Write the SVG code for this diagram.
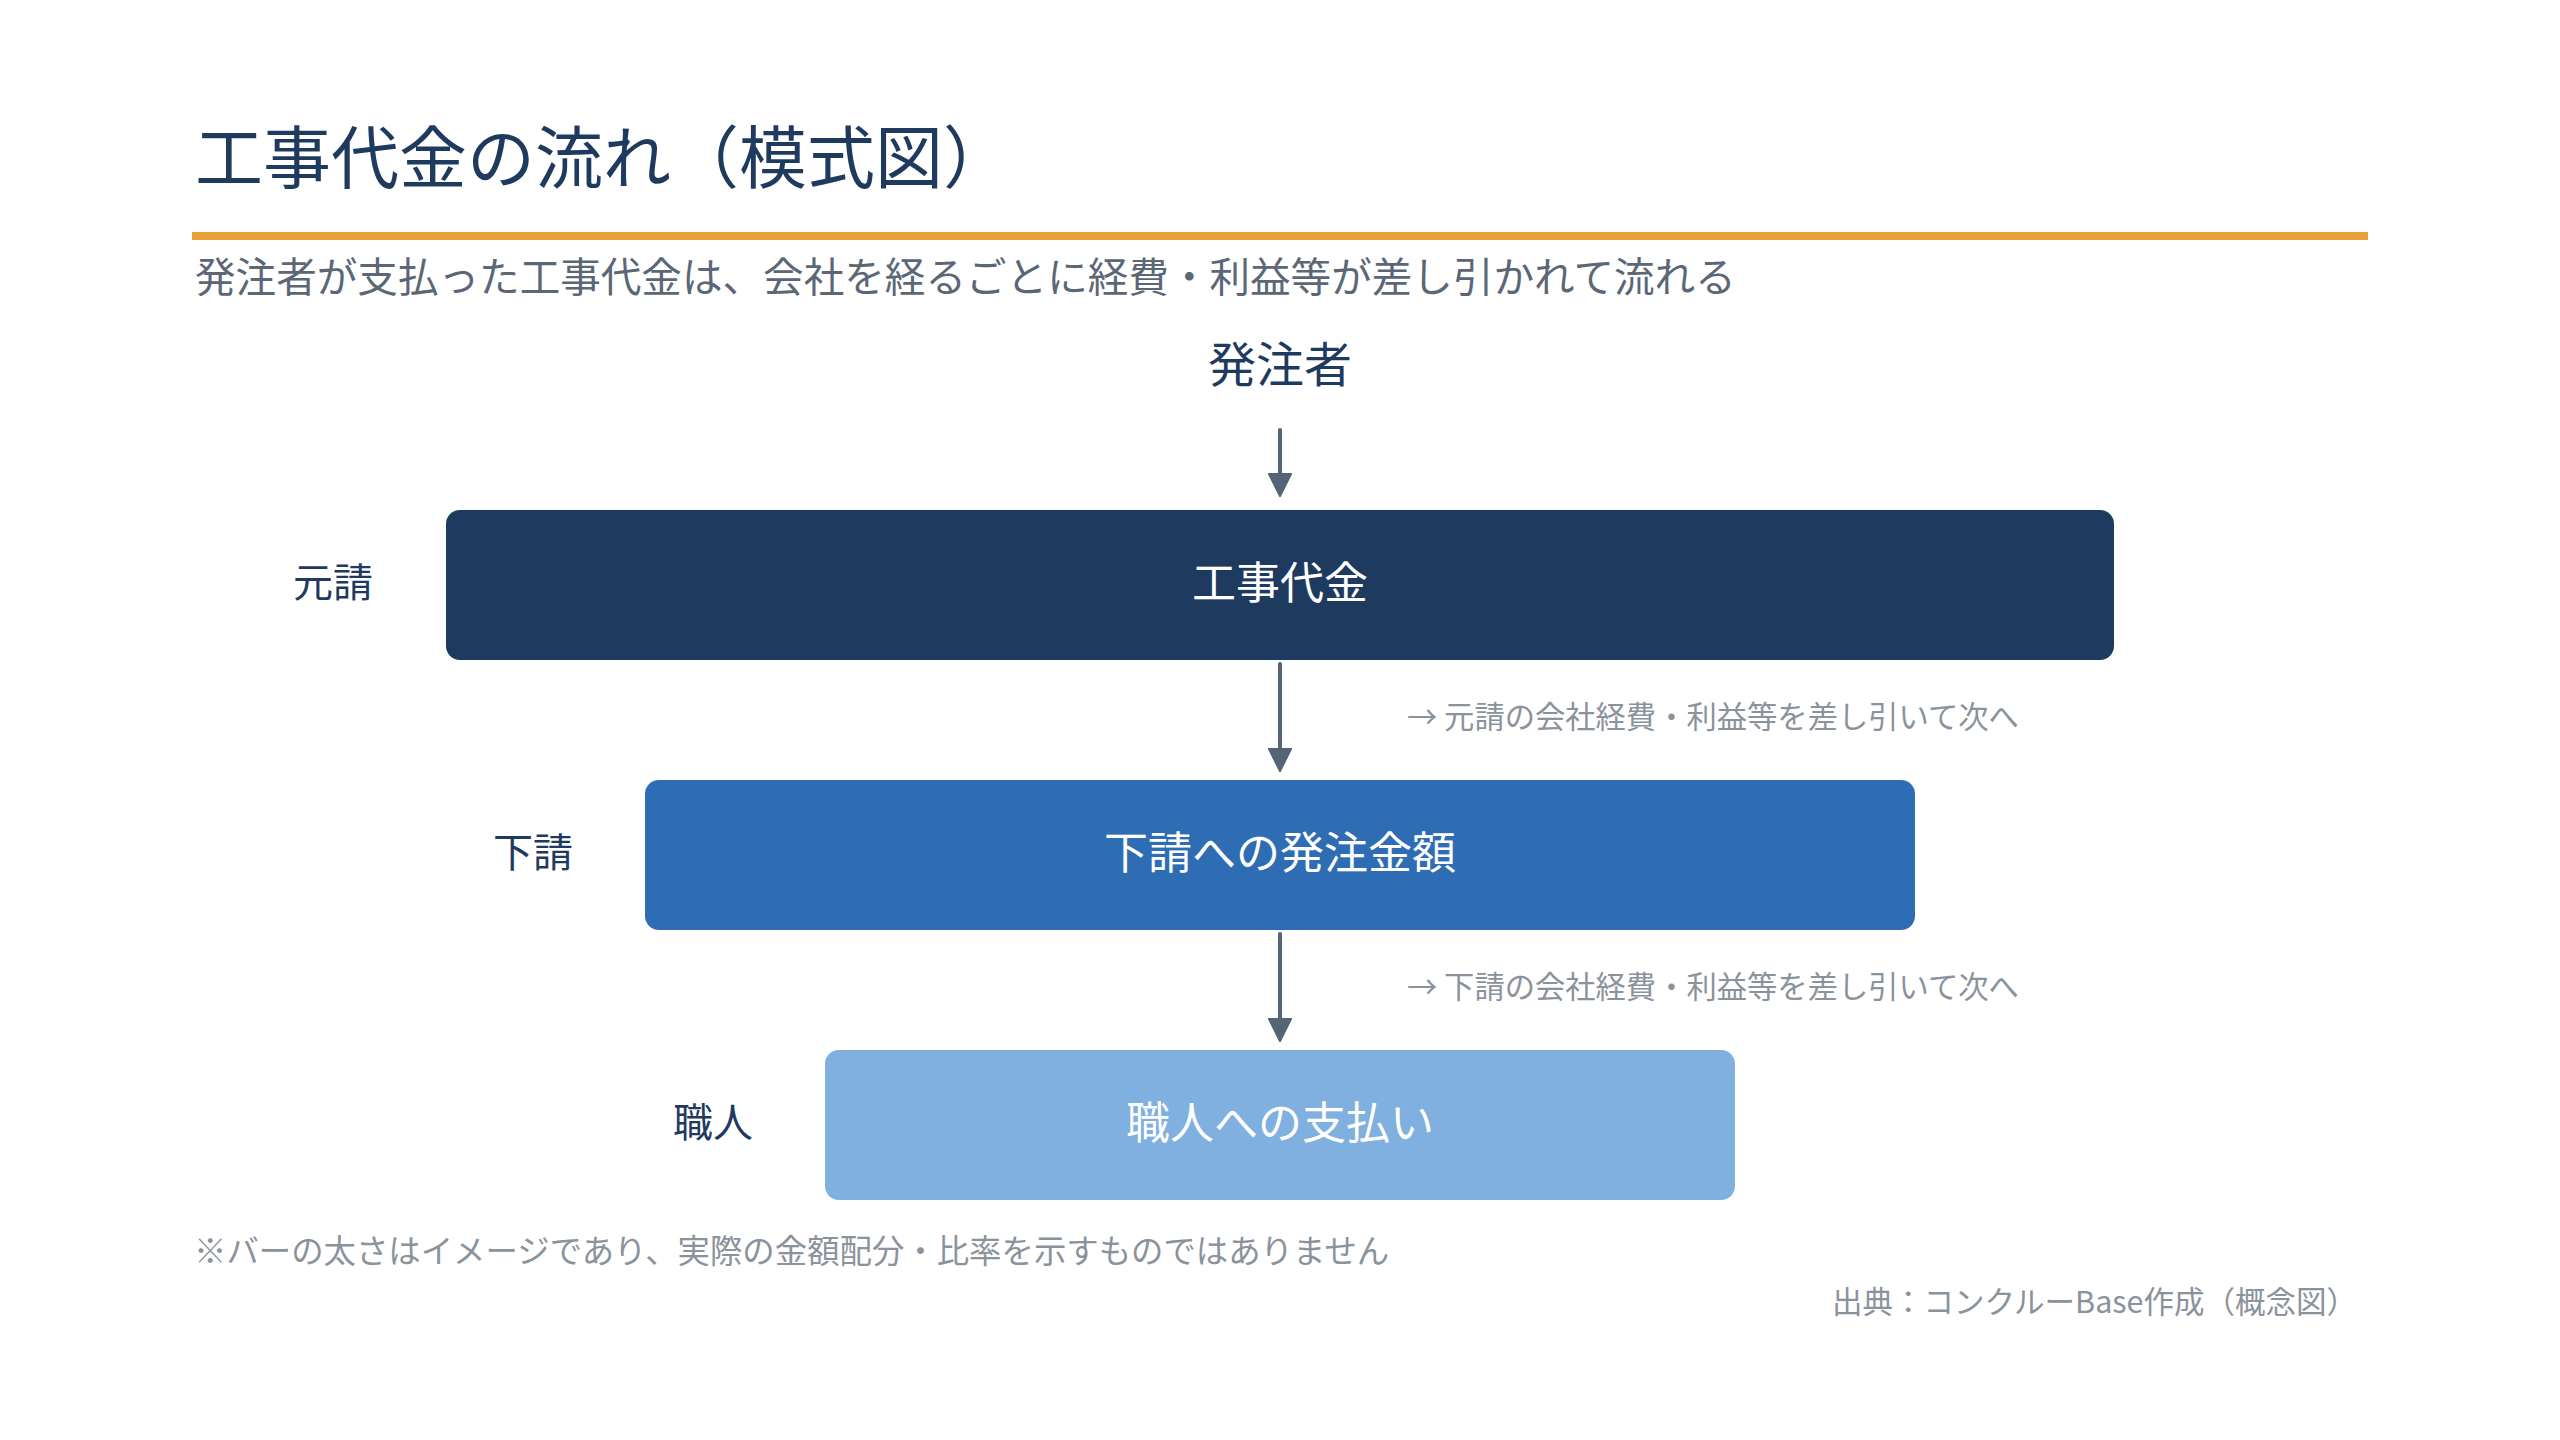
<svg xmlns="http://www.w3.org/2000/svg" width="2560" height="1440" viewBox="0 0 2560 1440">
  <defs>
    <marker id="arrow" markerWidth="6" markerHeight="6" refX="3" refY="0" orient="auto" markerUnits="strokeWidth" viewBox="0 -3 6 6">
      <path d="M0,-3 L6,0 L0,3 Z" fill="#556476" stroke="#556476" stroke-width="0.3" stroke-linejoin="round"/>
    </marker>
    <style>
      text { font-family: "Noto Sans CJK JP", "Noto Sans", sans-serif; dominant-baseline: central; }
      .title { font-size: 68px; fill: #1f3a5f; }
      .sub { font-size: 40.6px; fill: #5b6776; }
      .top { font-size: 48px; fill: #1f3a5f; text-anchor: middle; }
      .lbl { font-size: 40px; fill: #1f3a5f; text-anchor: end; }
      .btxt { font-size: 44px; fill: #ffffff; text-anchor: middle; }
      .note { font-size: 30.3px; fill: #8a929c; }
      .foot { font-size: 32.4px; fill: #8a929c; }
      .src { font-size: 30.5px; fill: #8a929c; text-anchor: end; }
      .conn { stroke: #556476; stroke-width: 4; stroke-linecap: round; fill: none; }
    </style>
  </defs>
  <rect width="2560" height="1440" fill="#ffffff"/>

  <g id="header">
    <text class="title" x="195" y="153">工事代金の流れ（模式図）</text>
    <rect x="192" y="232" width="2176" height="8" fill="#e8a03a"/>
    <text class="sub" x="195" y="274">発注者が支払った工事代金は、会社を経るごとに経費・利益等が差し引かれて流れる</text>
  </g>

  <g id="client">
    <text class="top" x="1280" y="361">発注者</text>
  </g>

  <g id="connectors">
    <line class="conn" x1="1280" y1="430" x2="1280" y2="485" marker-end="url(#arrow)"/>
    <line class="conn" x1="1280" y1="664" x2="1280" y2="760" marker-end="url(#arrow)"/>
    <line class="conn" x1="1280" y1="934" x2="1280" y2="1030" marker-end="url(#arrow)"/>
  </g>

  <g id="node-motouke">
    <text class="lbl" x="373" y="580">元請</text>
    <rect x="446" y="510" width="1668" height="150" rx="14" fill="#1f3a5f"/>
    <text class="btxt" x="1280" y="580">工事代金</text>
  </g>

  <g id="note-1">
    <text class="note" x="1407" y="715">→ 元請の会社経費・利益等を差し引いて次へ</text>
  </g>

  <g id="node-shitauke">
    <text class="lbl" x="573" y="850">下請</text>
    <rect x="645" y="780" width="1270" height="150" rx="14" fill="#2e6db4"/>
    <text class="btxt" x="1280" y="850">下請への発注金額</text>
  </g>

  <g id="note-2">
    <text class="note" x="1407" y="985">→ 下請の会社経費・利益等を差し引いて次へ</text>
  </g>

  <g id="node-shokunin">
    <text class="lbl" x="753" y="1120">職人</text>
    <rect x="825" y="1050" width="910" height="150" rx="14" fill="#7fb0e0"/>
    <text class="btxt" x="1280" y="1120">職人への支払い</text>
  </g>

  <g id="footer">
    <text class="foot" x="194" y="1248">※バーの太さはイメージであり、実際の金額配分・比率を示すものではありません</text>
    <text class="src" x="2357" y="1300">出典：コンクルーBase作成（概念図）</text>
  </g>
</svg>
